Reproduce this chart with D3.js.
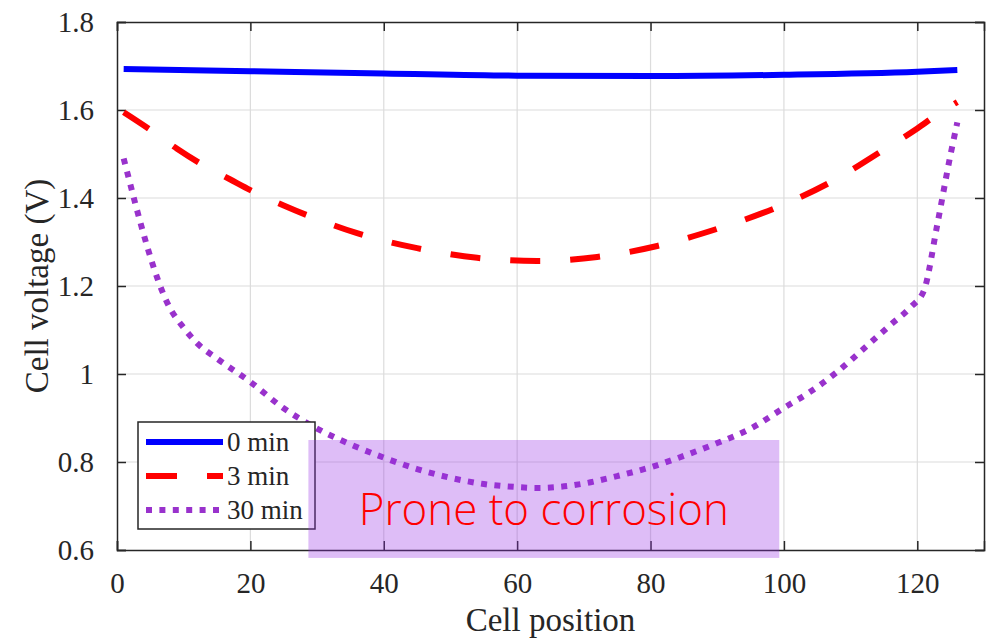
<!DOCTYPE html>
<html>
<head>
<meta charset="utf-8">
<script src="https://cdn.jsdelivr.net/npm/d3@7"></script>
<style>
	body { margin: 0; background: #fff; }
	svg { display: block; }
</style>
</head>
<body>
<svg id="chart" width="986" height="642"></svg>
<script>
// cell position / voltage
const pos0 = [1, 20, 40, 60, 80, 100, 120, 126]
const volt0 = [1.693, 1.688, 1.683, 1.678, 1.677, 1.68, 1.687, 1.691]

const pos3 = [1, 5, 9, 13, 17, 20, 25, 30, 36, 45, 54, 63, 72, 81, 90, 99, 107, 115, 120, 123, 126]
const volt3 = [1.595, 1.555, 1.512, 1.474, 1.442, 1.418, 1.383, 1.352, 1.32, 1.286, 1.264, 1.257, 1.266, 1.291, 1.33, 1.379, 1.436, 1.51, 1.558, 1.59, 1.618]

const pos30 = [1, 8, 10, 12, 15, 20, 25, 30, 35, 40, 45, 50, 55, 60, 63, 66, 70, 75, 80, 85, 90, 95, 100, 104, 108, 112, 116, 119, 121, 123, 125, 126]
const volt30 = [1.49, 1.148, 1.105, 1.07, 1.035, 0.982, 0.922, 0.876, 0.84, 0.81, 0.784, 0.764, 0.75, 0.743, 0.741, 0.743, 0.751, 0.768, 0.788, 0.814, 0.843, 0.876, 0.923, 0.96, 1.005, 1.058, 1.112, 1.152, 1.19, 1.34, 1.5, 1.572]

const seriesNames = ['0 min', '3 min', '30 min']
const xTicks = [0, 20, 40, 60, 80, 100, 120]
const yTicks = [0.6, 0.8, 1, 1.2, 1.4, 1.6, 1.8]

// highlighted region (cell range, voltage range)
const zoneX = [28.7, 99.3]
const zoneY = [0.582, 0.85]
const zoneLabel = 'Prone to corrosion'

const margin = { left: 117, right: 2, top: 22, bottom: 92 }
const W = 986
const H = 642
const serif = '"Liberation Serif", "Times New Roman", serif'
const ink = '#262626'

const svg = d3.select('#chart')

const x = d3.scaleLinear().domain([0, 130]).range([margin.left, W - margin.right])
const y = d3.scaleLinear().domain([0.6, 1.8]).range([H - margin.bottom, margin.top])

// grid
const grid = svg.append('g').attr('class', 'grid')
grid.selectAll('line.gx')
	.data(xTicks.slice(1))
	.join('line')
	.attr('x1', d => x(d)).attr('x2', d => x(d))
	.attr('y1', y(0.6)).attr('y2', y(1.8))
	.attr('stroke', '#dcdcdc').attr('stroke-width', 1.2)
grid.selectAll('line.gy')
	.data(yTicks.slice(1, -1))
	.join('line')
	.attr('x1', x(0)).attr('x2', x(130))
	.attr('y1', d => y(d)).attr('y2', d => y(d))
	.attr('stroke', '#dcdcdc').attr('stroke-width', 1.2)

// axes (ticks inside, box all round)
const tickLen = 9
const axisG = svg.append('g').attr('font-family', serif).attr('fill', ink)

axisG.append('g')
	.attr('transform', `translate(0,${y(0.6)})`)
	.call(d3.axisBottom(x).tickValues(xTicks).tickSize(-tickLen).tickPadding(22).tickFormat(d3.format('d')))
axisG.append('g')
	.attr('transform', `translate(0,${y(1.8)})`)
	.call(d3.axisTop(x).tickValues(xTicks).tickSize(-tickLen).tickFormat(''))
axisG.append('g')
	.attr('transform', `translate(${x(0)},0)`)
	.call(d3.axisLeft(y).tickValues(yTicks).tickSize(-tickLen).tickPadding(23).tickFormat(d => d === 1 ? '1' : d3.format('.1f')(d)))
axisG.append('g')
	.attr('transform', `translate(${x(130)},0)`)
	.call(d3.axisRight(y).tickValues(yTicks).tickSize(-tickLen).tickFormat(''))

axisG.selectAll('.domain').attr('stroke', ink).attr('stroke-width', 1.5)
axisG.selectAll('.tick line').attr('stroke', ink).attr('stroke-width', 1.5)
axisG.selectAll('.tick text')
	.attr('fill', ink)
	.attr('font-size', 29)
	.attr('font-family', serif)

// axis titles
svg.append('text')
	.attr('x', (x(0) + x(130)) / 2)
	.attr('y', 631)
	.attr('text-anchor', 'middle')
	.attr('font-family', serif)
	.attr('font-size', 33)
	.attr('fill', ink)
	.text('Cell position')
svg.append('text')
	.attr('transform', `translate(48,${(y(0.6) + y(1.8)) / 2}) rotate(-90)`)
	.attr('text-anchor', 'middle')
	.attr('font-family', serif)
	.attr('font-size', 33)
	.attr('fill', ink)
	.text('Cell voltage (V)')

// lines
const styles = [
	{ color: '#0000ff', dash: null },
	{ color: '#ff0000', dash: '30,30' },
	{ color: '#9932cc', dash: '6,7.4' }
]
const series = [
	pos0.map((p, i) => [p, volt0[i]]),
	pos3.map((p, i) => [p, volt3[i]]),
	pos30.map((p, i) => [p, volt30[i]])
]

const line = d3.line()
	.x(d => x(d[0]))
	.y(d => y(d[1]))
	.curve(d3.curveMonotoneX)

svg.append('g').attr('class', 'lines')
	.selectAll('path')
	.data(series)
	.join('path')
	.attr('d', line)
	.attr('fill', 'none')
	.attr('stroke', (d, i) => styles[i].color)
	.attr('stroke-width', 6)
	.attr('stroke-dasharray', (d, i) => styles[i].dash)

// legend
const legend = svg.append('g').attr('transform', 'translate(138,422)')
legend.append('rect')
	.attr('width', 177).attr('height', 107)
	.attr('fill', '#fff').attr('stroke', ink).attr('stroke-width', 1.5)
const rows = legend.selectAll('g.row')
	.data(seriesNames)
	.join('g')
	.attr('transform', (d, i) => `translate(0,${20 + i * 34})`)
rows.append('line')
	.attr('x1', 8).attr('x2', 85)
	.attr('stroke', (d, i) => styles[i].color)
	.attr('stroke-width', 6)
	.attr('stroke-dasharray', (d, i) => styles[i].dash ? (i === 1 ? '31,30' : styles[i].dash) : null)
rows.append('text')
	.attr('x', 89)
	.attr('dy', '0.34em')
	.attr('font-family', serif)
	.attr('font-size', 27)
	.attr('fill', ink)
	.text(d => d)

// highlighted zone, drawn on top
svg.append('rect')
	.attr('x', x(zoneX[0]))
	.attr('y', y(zoneY[1]))
	.attr('width', x(zoneX[1]) - x(zoneX[0]))
	.attr('height', y(zoneY[0]) - y(zoneY[1]))
	.attr('fill', '#9933e6')
	.attr('fill-opacity', 0.32)
svg.append('text')
	.attr('x', (x(zoneX[0]) + x(zoneX[1])) / 2)
	.attr('y', 525)
	.attr('text-anchor', 'middle')
	.attr('font-family', '"Open Sans", "Noto Sans", sans-serif')
	.attr('font-weight', 300)
	.attr('font-size', 44)
	.attr('fill', '#ff0000')
	.attr('textLength', 370)
	.attr('lengthAdjust', 'spacingAndGlyphs')
	.text(zoneLabel)
</script>
</body>
</html>
